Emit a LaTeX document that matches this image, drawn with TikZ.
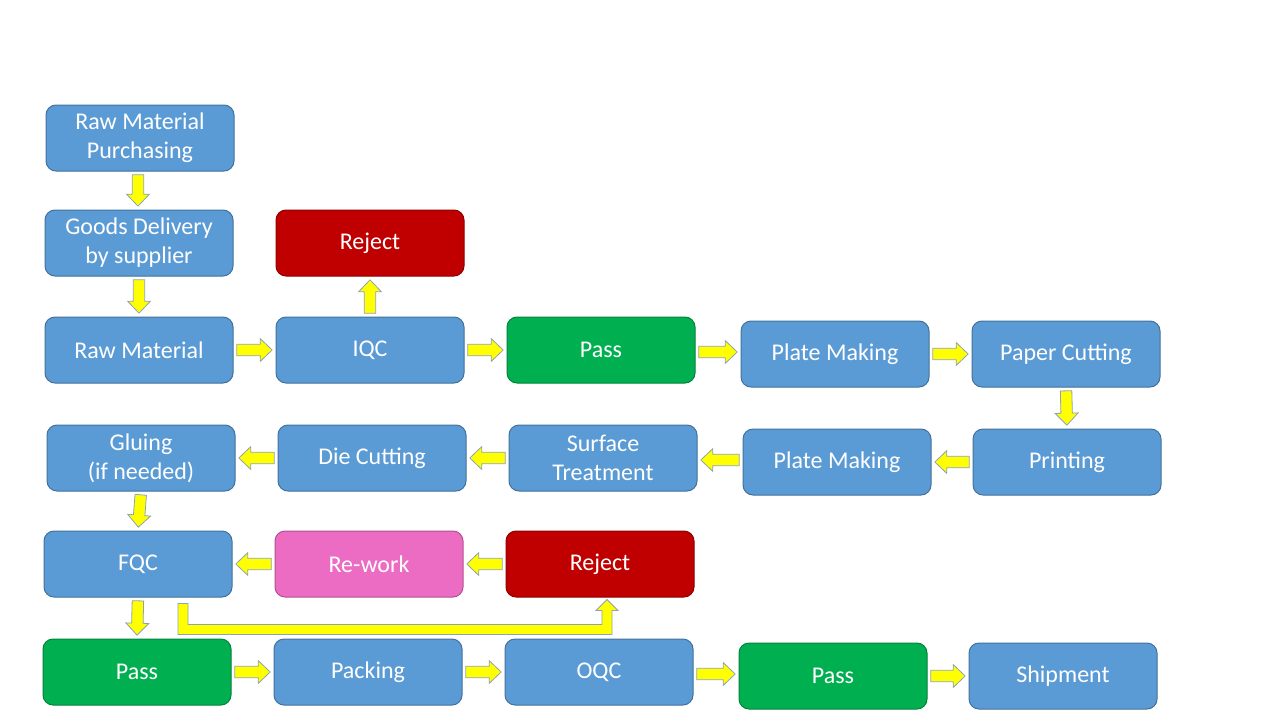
\documentclass[tikz,border=0pt]{standalone}
\usepackage{fontspec}
\setmainfont{Carlito}
\usetikzlibrary{calc,positioning}
\definecolor{boxBlue}{RGB}{91,155,213}
\definecolor{boxEdge}{RGB}{65,113,156}
\definecolor{passGreen}{RGB}{0,176,80}
\definecolor{rejectRed}{RGB}{192,0,0}
\definecolor{reworkPink}{RGB}{236,108,196}
\definecolor{arrowYellow}{RGB}{255,255,0}
\definecolor{arrowEdge}{RGB}{140,162,185}
\tikzset{
  blockarrow/.style={draw=arrowEdge, fill=arrowYellow, line width=0.6pt, line join=miter,
    to path={let \p1=(\tikztostart), \p2=(\tikztotarget),
      \n1={atan2(\y2-\y1,\x2-\x1)}, \n2={veclen(\x2-\x1,\y2-\y1)} in
      ([shift={(\p1)},rotate=\n1] 2.5pt,-4.3pt)
      -- ([shift={(\p1)},rotate=\n1] {\n2*1pt-11.5pt},-4.3pt)
      -- ([shift={(\p1)},rotate=\n1] {\n2*1pt-11.5pt},-8.6pt)
      -- ([shift={(\p1)},rotate=\n1] {\n2*1pt-2.5pt},0pt)
      -- ([shift={(\p1)},rotate=\n1] {\n2*1pt-11.5pt},8.6pt)
      -- ([shift={(\p1)},rotate=\n1] {\n2*1pt-11.5pt},4.3pt)
      -- ([shift={(\p1)},rotate=\n1] 2.5pt,4.3pt) -- cycle}}
}
\begin{document}
\begin{tikzpicture}[x=0.75pt, y=-0.75pt,
  every node/.style={font=\fontsize{18}{21.75}\selectfont, text=white},
  procbox/.style={draw=boxEdge, line width=0.75pt, fill=boxBlue, rounded corners=7.5pt,
    minimum width=141pt, minimum height=49.5pt, align=center, inner sep=0pt},
  passbox/.style={procbox, fill=passGreen, draw=passGreen!75!black},
  rejectbox/.style={procbox, fill=rejectRed, draw=rejectRed!75!black},
  reworkbox/.style={procbox, fill=reworkPink, draw=reworkPink!75!black}]
  \useasboundingbox (0,0) rectangle (1278,728);
  % Column 1
  \node[procbox] (rmp) at (140,138) {Raw Material\\Purchasing};
  \node[procbox] (goods) at (139,243) {Goods Delivery\\by supplier};
  \node[rejectbox] (rejA) at (370,243) {Reject};
  % Incoming row
  \node[procbox] (rawmat) at (139,350) {Raw Material};
  \node[procbox] (iqc) at (370,350) {IQC};
  \node[passbox] (passA) at (601,350) {Pass};
  \node[procbox] (plateA) at (835,354) {Plate Making};
  \node[procbox] (paper) at (1066,354) {Paper Cutting};
  % Return row
  \node[procbox] (gluing) at (141,458) {Gluing\\(if needed)};
  \node[procbox] (diecut) at (372,458) {Die Cutting};
  \node[procbox] (surface) at (603,458) {Surface\\Treatment};
  \node[procbox] (plateB) at (837,462) {Plate Making};
  \node[procbox] (printing) at (1067,462) {Printing};
  % Final check
  \node[procbox] (fqc) at (138,564) {FQC};
  \node[reworkbox] (rework) at (369,564) {Re-work};
  \node[rejectbox] (rejB) at (600,564) {Reject};
  % Outgoing row
  \node[passbox] (passB) at (137,672) {Pass};
  \node[procbox] (packing) at (368,672) {Packing};
  \node[procbox] (oqc) at (599,672) {OQC};
  \node[passbox] (passC) at (833,676) {Pass};
  \node[procbox] (shipment) at (1063,676) {Shipment};
  % Arrows
  \draw[blockarrow] ($(rmp.south)+(-2,0)$) to ($(goods.north)+(-1,0)$);
  \draw[blockarrow] (goods.south) to (rawmat.north);
  \draw[blockarrow] (rawmat.east) to (iqc.west);
  \draw[blockarrow] (iqc.north) to (rejA.south);
  \draw[blockarrow] (iqc.east) to (passA.west);
  \draw[blockarrow] ($(passA.east)+(0,2)$) to ($(plateA.west)+(0,-2)$);
  \draw[blockarrow] (plateA.east) to (paper.west);
  \draw[blockarrow] (paper.south) to (printing.north);
  \draw[blockarrow] (printing.west) to (plateB.west -| plateB.east);
  \draw[blockarrow] ($(plateB.west)+(0,-2)$) to ($(surface.east)+(0,2)$);
  \draw[blockarrow] (surface.west) to (diecut.east);
  \draw[blockarrow] (diecut.west) to (gluing.east);
  \draw[blockarrow] (gluing.south) to (fqc.north);
  \draw[blockarrow] (rejB.west) to (rework.east);
  \draw[blockarrow] (rework.west) to (fqc.east);
  \draw[blockarrow] (fqc.south) to (passB.north);
  \draw[blockarrow] (passB.east) to (packing.west);
  \draw[blockarrow] (packing.east) to (oqc.west);
  \draw[blockarrow] ($(oqc.east)+(0,2)$) to ($(passC.west)+(0,-2)$);
  \draw[blockarrow] (passC.east) to (shipment.west);
  % FQC to reject
  \draw[draw=arrowEdge, fill=arrowYellow, line width=0.6pt]
    ($(fqc.south)+(40,6)$) -- ($(fqc.south)+(40,37)$) -- ($(rejB.south)+(12,37)$)
    -- ($(rejB.south)+(12,13)$) -- ($(rejB.south)+(18,13)$) -- ($(rejB.south)+(7,2)$)
    -- ($(rejB.south)+(-4,13)$) -- ($(rejB.south)+(2,13)$) -- ($(rejB.south)+(2,27)$)
    -- ($(fqc.south)+(50,27)$) -- ($(fqc.south)+(50,6)$) -- cycle;
\end{tikzpicture}
\end{document}
